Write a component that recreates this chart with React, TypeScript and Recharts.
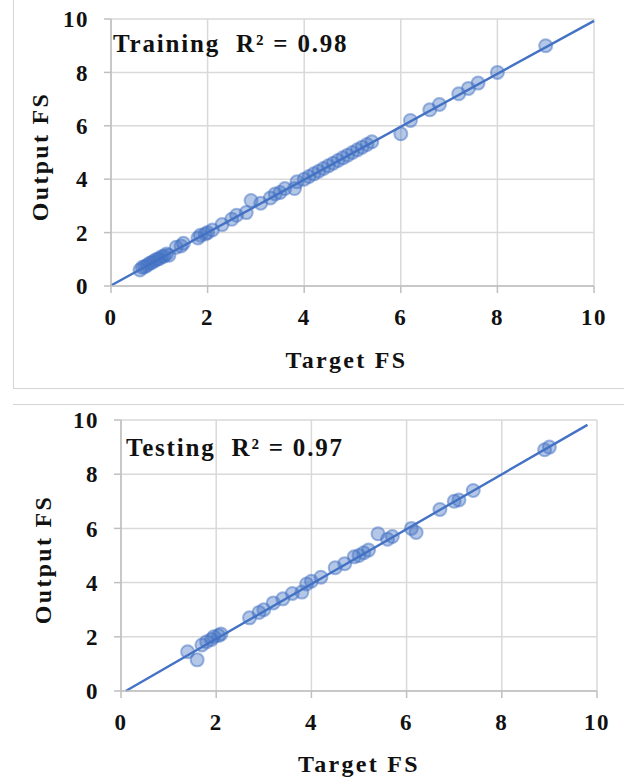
import {
  CartesianGrid,
  Label,
  ReferenceLine,
  Scatter,
  ScatterChart,
  XAxis,
  YAxis,
} from "recharts";

// Target FS vs model output
const trainTarget = [
  0.6, 0.65, 0.7, 0.75, 0.8, 0.85, 0.9, 0.95, 1.0, 1.05, 1.1, 1.15, 1.2, 1.35, 1.45, 1.5,
  1.8, 1.85, 1.95, 2.0, 2.1, 2.3, 2.5, 2.6, 2.8, 2.9, 3.1, 3.3, 3.4, 3.5, 3.6, 3.8, 3.85,
  4.0, 4.1, 4.2, 4.3, 4.4, 4.5, 4.6, 4.7, 4.8, 4.9, 5.0, 5.1, 5.2, 5.3, 5.4, 6.0, 6.2,
  6.6, 6.8, 7.2, 7.4, 7.6, 8.0, 9.0,
];
const trainOutput = [
  0.6, 0.7, 0.72, 0.78, 0.85, 0.88, 0.95, 1.0, 1.02, 1.1, 1.12, 1.2, 1.15, 1.45, 1.5, 1.6,
  1.8, 1.9, 1.95, 2.0, 2.1, 2.3, 2.5, 2.65, 2.75, 3.2, 3.1, 3.3, 3.45, 3.5, 3.65, 3.65, 3.9,
  4.0, 4.1, 4.2, 4.3, 4.4, 4.5, 4.6, 4.7, 4.8, 4.9, 5.0, 5.1, 5.2, 5.3, 5.4, 5.7, 6.2,
  6.6, 6.8, 7.2, 7.4, 7.6, 8.0, 9.0,
];

const testTarget = [
  1.4, 1.6, 1.7, 1.8, 1.9, 1.95, 2.05, 2.1, 2.7, 2.9, 3.0, 3.2, 3.4, 3.6, 3.8, 3.9, 4.0,
  4.2, 4.5, 4.7, 4.9, 5.0, 5.1, 5.2, 5.4, 5.6, 5.7, 6.1, 6.2, 6.7, 7.0, 7.1, 7.4, 8.9, 9.0,
];
const testOutput = [
  1.45, 1.15, 1.7, 1.82, 1.9, 2.0, 2.05, 2.1, 2.7, 2.9, 3.0, 3.25, 3.4, 3.6, 3.65, 3.95, 4.05,
  4.2, 4.55, 4.7, 4.95, 5.0, 5.1, 5.2, 5.8, 5.6, 5.7, 6.0, 5.85, 6.7, 7.0, 7.05, 7.4, 8.9, 9.0,
];

// linear fit endpoints drawn in each panel
const trainFit = [
  { x: 0, y: 0.02 },
  { x: 10, y: 9.93 },
];
const testFit = [
  { x: 0.1, y: 0.0 },
  { x: 9.8, y: 9.82 },
];

const axisTicks = [0, 2, 4, 6, 8, 10];

const FONT = '"Liberation Serif", "Times New Roman", serif';
const BLUE = "#4472C4";
const AXIS_GREY = "#bfbfbf";
const GRID_GREY = "#d9d9d9";

const zip = (xs: number[], ys: number[]) => xs.map((x, i) => ({ x, y: ys[i] }));

const tickStyle = {
  fill: "#111",
  fontSize: 23,
  fontWeight: 700,
  fontFamily: FONT,
  letterSpacing: 1.5,
};

function Marker(props: any) {
  const { cx, cy } = props;
  if (cx == null || cy == null) return <g />;
  return (
    <circle
      cx={cx}
      cy={cy}
      r={6.5}
      fill={BLUE}
      fillOpacity={0.4}
      stroke={BLUE}
      strokeOpacity={0.5}
      strokeWidth={2}
    />
  );
}

interface PanelProps {
  points: { x: number; y: number }[];
  fit: { x: number; y: number }[];
  width: number;
  height: number;
  margin: { top: number; right: number; bottom: number; left: number };
  yAxisWidth: number;
  xAxisHeight: number;
  yTitleX: number;
  xTitleDy: number;
  xTitleDx: number;
}

function Panel({
  points,
  fit,
  width,
  height,
  margin,
  yAxisWidth,
  xAxisHeight,
  yTitleX,
  xTitleDy,
  xTitleDx,
}: PanelProps) {
  const titleStyle = {
    fill: "#111",
    fontSize: 24,
    fontWeight: 700,
    fontFamily: FONT,
    letterSpacing: 2.3,
  };

  return (
    <ScatterChart width={width} height={height} margin={margin}>
      <CartesianGrid stroke={GRID_GREY} strokeWidth={1.5} />
      <XAxis
        type="number"
        dataKey="x"
        domain={[0, 10]}
        ticks={axisTicks}
        allowDataOverflow
        height={xAxisHeight}
        tick={tickStyle}
        tickSize={7}
        tickMargin={16}
        tickLine={{ stroke: AXIS_GREY, strokeWidth: 1.5 }}
        axisLine={{ stroke: AXIS_GREY, strokeWidth: 1.5 }}
      >
        <Label
          content={({ viewBox }: any) => (
            <text
              x={viewBox.x + viewBox.width / 2 + xTitleDx}
              y={viewBox.y + xTitleDy}
              textAnchor="middle"
              {...titleStyle}
            >
              Target FS
            </text>
          )}
        />
      </XAxis>
      <YAxis
        type="number"
        dataKey="y"
        domain={[0, 10]}
        ticks={axisTicks}
        allowDataOverflow
        width={yAxisWidth}
        tick={tickStyle}
        tickSize={7}
        tickMargin={15}
        tickLine={{ stroke: AXIS_GREY, strokeWidth: 1.5 }}
        axisLine={{ stroke: AXIS_GREY, strokeWidth: 1.5 }}
      >
        <Label
          content={({ viewBox }: any) => {
            const cx = viewBox.x + yTitleX;
            const cy = viewBox.y + viewBox.height / 2 + 4;
            return (
              <text
                x={cx}
                y={cy}
                textAnchor="middle"
                dominantBaseline="central"
                transform={`rotate(-90 ${cx} ${cy})`}
                {...titleStyle}
              >
                Output FS
              </text>
            );
          }}
        />
      </YAxis>
      <ReferenceLine segment={fit} stroke={BLUE} strokeWidth={2.4} ifOverflow="visible" />
      <Scatter data={points} shape={Marker} isAnimationActive={false} />
    </ScatterChart>
  );
}

const noteStyle = {
  position: "absolute" as const,
  fontFamily: FONT,
  fontSize: 25,
  fontWeight: 700,
  lineHeight: "24px",
  letterSpacing: 1.8,
  whiteSpace: "pre" as const,
  color: "#111",
};

export default function App() {
  return (
    <div
      style={{
        position: "absolute",
        left: 0,
        top: 0,
        width: 624,
        height: 782,
        background: "#fff",
        overflow: "hidden",
      }}
    >
      {/* panel frames */}
      <div
        style={{
          position: "absolute",
          left: 13,
          top: 0,
          width: 620,
          height: 388,
          borderLeft: "1.5px solid #d4d4d4",
          borderBottom: "1.5px solid #d4d4d4",
        }}
      />
      <div
        style={{
          position: "absolute",
          left: 13,
          top: 404,
          width: 620,
          borderTop: "1.5px solid #d4d4d4",
        }}
      />

      <div style={{ position: "absolute", left: 0, top: 0 }}>
        <Panel
          points={zip(trainTarget, trainOutput)}
          fit={trainFit}
          width={624}
          height={390}
          margin={{ top: 19, right: 30, bottom: 17, left: 0 }}
          yAxisWidth={111}
          xAxisHeight={87}
          yTitleX={40}
          xTitleDy={82}
          xTitleDx={-6}
        />
      </div>
      <div style={{ ...noteStyle, left: 113, top: 32 }}>Training  R² = 0.98</div>

      <div style={{ position: "absolute", left: 0, top: 390 }}>
        <Panel
          points={zip(testTarget, testOutput)}
          fit={testFit}
          width={624}
          height={392}
          margin={{ top: 30, right: 27, bottom: 5, left: 0 }}
          yAxisWidth={121}
          xAxisHeight={86}
          yTitleX={43}
          xTitleDy={81}
          xTitleDx={0}
        />
      </div>
      <div style={{ ...noteStyle, left: 126, top: 436 }}>Testing  R² = 0.97</div>
    </div>
  );
}
